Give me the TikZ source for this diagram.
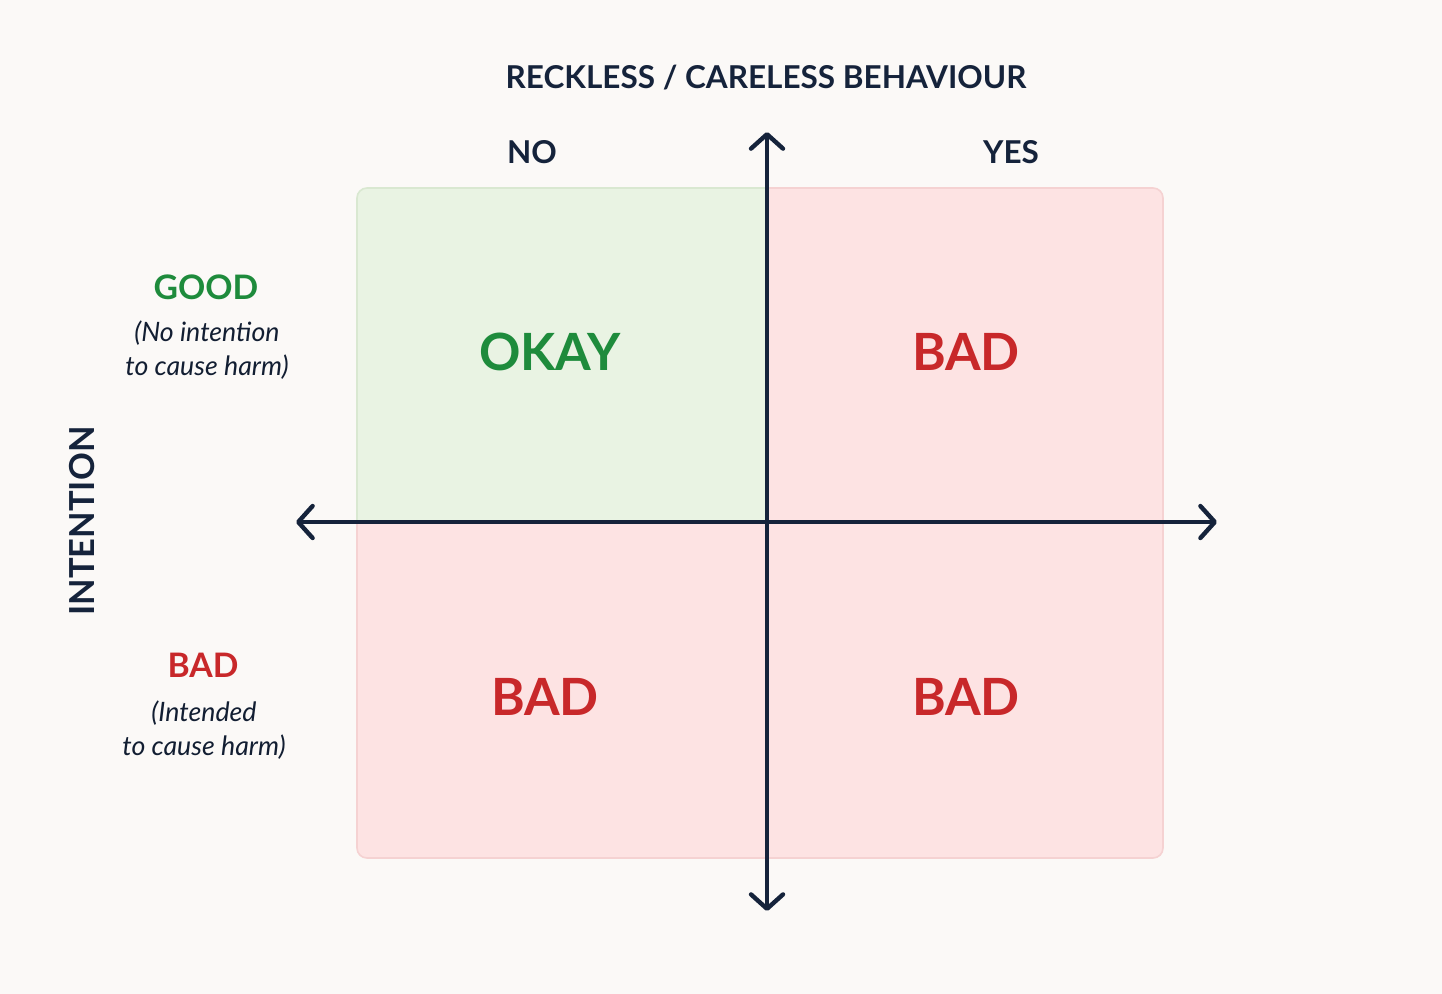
\documentclass[tikz,border=0pt]{standalone}
\usepackage{fontspec}
\setmainfont{Lato}
\usetikzlibrary{arrows.meta}

\definecolor{paper}{HTML}{FBF9F7}
\definecolor{navy}{HTML}{15233B}
\definecolor{okgreen}{HTML}{1E8B3C}
\definecolor{badred}{HTML}{C8282A}
\definecolor{greenfill}{HTML}{E9F3E3}
\definecolor{greenline}{HTML}{D9E8D1}
\definecolor{pinkfill}{HTML}{FDE3E3}
\definecolor{pinkline}{HTML}{F5D2D2}

\begin{document}
\begin{tikzpicture}[
    x=0.025cm, y=-0.025cm,
    axis/.style={draw=navy, line width=0.11cm, line cap=round,
        {Straight Barb[length=0.36cm,width=0.8cm,round]}-{Straight Barb[length=0.36cm,width=0.8cm,round]}},
    heading/.style={text=navy, font=\bfseries\fontsize{22.4}{26}\selectfont},
    sidehead/.style={font=\bfseries\fontsize{24}{28}\selectfont},
    note/.style={text=navy!85!black, font=\itshape\fontsize{19}{24.5}\selectfont, align=center},
    verdict/.style={font=\bfseries\fontsize{36.5}{44}\selectfont},
    quad/.style={line width=0.04cm}]

% background and page size
\fill[paper] (0,0) rectangle (1442,994);
\useasboundingbox (0,0) rectangle (1442,994);

% quadrants
\path[quad, fill=greenfill, draw=greenline] (767,522) -- (357,522)
    [rounded corners=0.25cm] -- (357,188) [sharp corners] -- (767,188) -- cycle;
\path[quad, fill=pinkfill, draw=pinkline] (767,522) -- (767,188)
    [rounded corners=0.25cm] -- (1163,188) [sharp corners] -- (1163,522) -- cycle;
\path[quad, fill=pinkfill, draw=pinkline] (767,522) -- (357,522)
    [rounded corners=0.25cm] -- (357,858) [sharp corners] -- (767,858) -- cycle;
\path[quad, fill=pinkfill, draw=pinkline] (767,522) -- (1163,522)
    [rounded corners=0.25cm] -- (1163,858) [sharp corners] -- (767,858) -- cycle;

% axes
\coordinate (west) at (296,522);
\coordinate (east) at (1217,522);
\coordinate (north) at (767,132);
\coordinate (south) at (767,911);
\draw[axis] (west) -- (east);
\draw[axis] (south) -- (north);

% labels
\node[heading] (title) at (766,78) {RECKLESS / CARELESS BEHAVIOUR};
\node[heading] (no) at (532,152) {NO};
\node[heading] (yes) at (1011,152) {YES};
\node[heading, font=\bfseries\fontsize{24.5}{28}\selectfont, rotate=90] (intention) at (82,521) {INTENTION};

\node[sidehead, text=okgreen] (good) at (206,287) {GOOD};
\node[note] (goodnote) at (207,350) {(No intention\\to cause harm)};
\node[sidehead, text=badred] (bad) at (203,665) {BAD};
\node[note] (badnote) at (204,730) {(Intended\\to cause harm)};

\node[verdict, text=okgreen] (okay) at (550,352) {OKAY};
\node[verdict, text=badred] (badNE) at (966,352) {BAD};
\node[verdict, text=badred] (badSW) at (545,697) {BAD};
\node[verdict, text=badred] (badSE) at (966,697) {BAD};

\end{tikzpicture}
\end{document}
